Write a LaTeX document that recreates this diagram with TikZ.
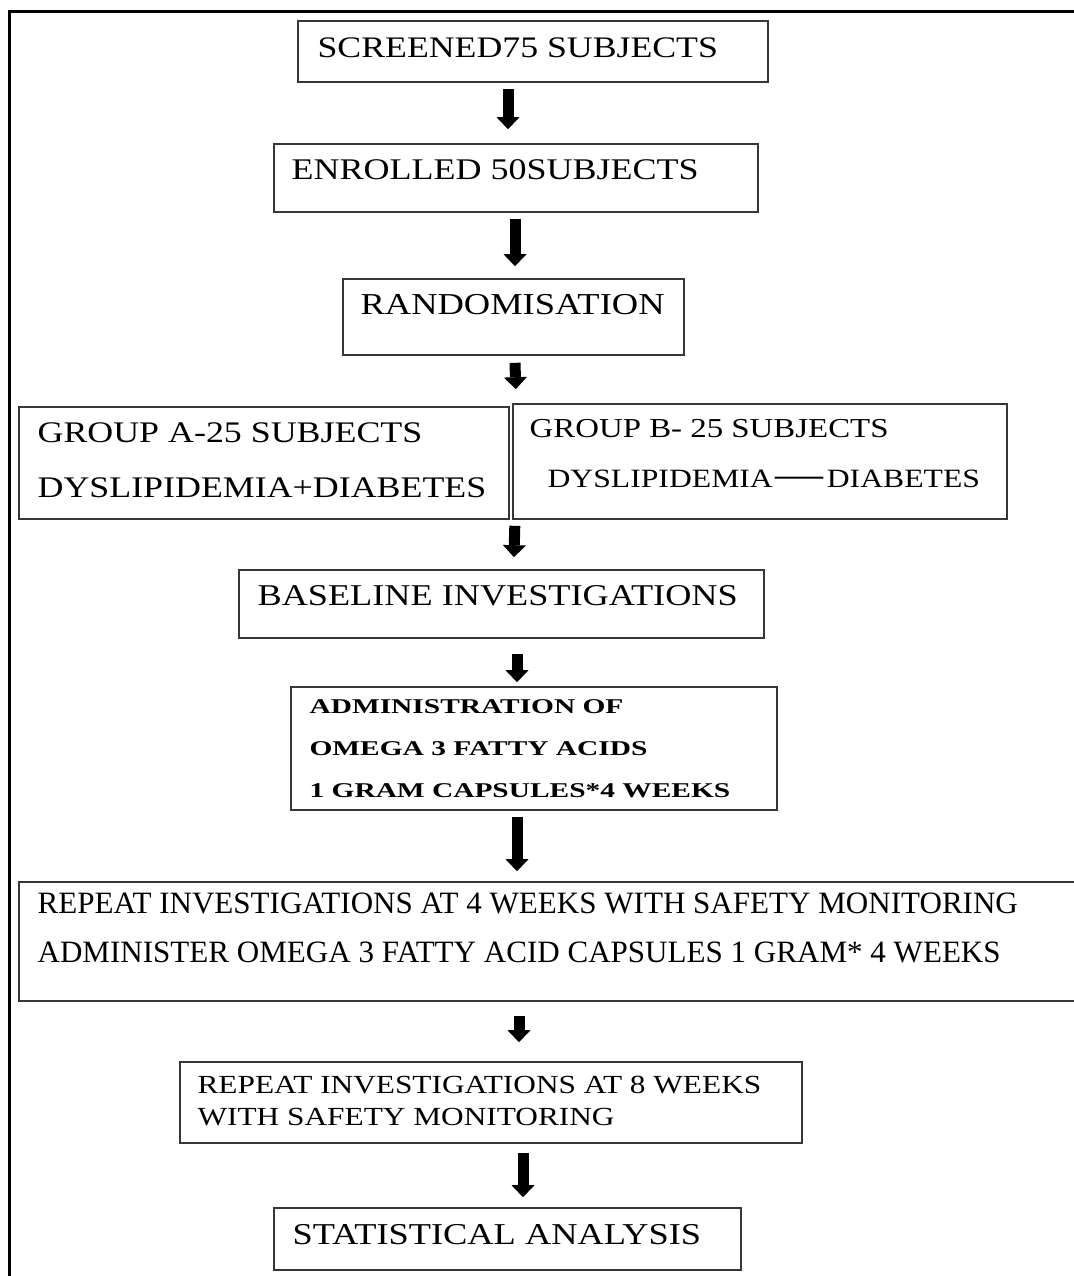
\documentclass[tikz,border=0pt]{standalone}
\usepackage{fontspec}
\setmainfont[FakeStretch=1.2]{Liberation Serif}
\newfontfamily\plainserif{Liberation Serif}
\newfontfamily\wideserif[FakeStretch=1.4]{Liberation Serif}
\usetikzlibrary{arrows.meta,fit}
\definecolor{boxgray}{RGB}{55,55,55}
\newcommand{\fsize}[2]{\fontsize{#1}{#2}\selectfont}

\begin{document}
\begin{tikzpicture}[
    x=0.5pt, y=-0.5pt,
    box/.style={rectangle,draw=boxgray,line width=0.8pt,inner sep=0pt},
    txt/.style={anchor=north west,inner sep=0pt,align=left,font=\fsize{15}{18}},
    arrow/.style={-{Triangle[length=6pt,width=11.5pt,line width=0pt]},line width=5.5pt},
    frame/.style={line width=1.5pt}
  ]
    \clip (0,0) rectangle (1074,1276);
    \draw[frame] (9.5,1290) |- (1090,11.3);

    \node[box,fit={(298,21) (768,82)}] (scr) {};
    \node[box,fit={(274,144) (758,212)}] (enr) {};
    \node[box,fit={(343,279) (684,355)}] (rand) {};
    \node[box,fit={(19,407) (509,519)}] (grpa) {};
    \node[box,fit={(513,404) (1007,519)}] (grpb) {};
    \node[box,fit={(239,570) (764,638)}] (base) {};
    \node[box,fit={(291,687) (777,810)}] (admin) {};
    \node[box,fit={(19,882) (1090,1001)}] (rep4) {};
    \node[box,fit={(180,1062) (802,1143)}] (rep8) {};
    \node[box,fit={(274,1208) (741,1270)}] (stat) {};

    \node[txt,font=\fsize{14.9}{18}] (scrtext) at ([shift={(20,17)}]scr.north west) {SCREENED75 SUBJECTS};
    \node[txt] (enrtext) at ([shift={(18,16)}]enr.north west) {ENROLLED 50SUBJECTS};
    \node[txt,font=\fsize{15.2}{18}] (randtext) at ([shift={(18,16)}]rand.north west) {RANDOMISATION};
    \node[txt,font=\fsize{14.95}{27.5}] (grpatext) at ([shift={(19,16)}]grpa.north west)
      {GROUP A-25 SUBJECTS\\DYSLIPIDEMIA+DIABETES};
    \node[txt,font=\fsize{13.7}{25}] (grpbtext) at ([shift={(17,16)}]grpb.north west)
      {GROUP B- 25 SUBJECTS\\\hspace*{9pt}{\fsize{13.2}{25}DYSLIPIDEMIA\kern1.5pt{\fsize{20}{25}—}\kern1.5pt DIABETES}};
    \node[txt,font=\fsize{15.1}{18}] (basetext) at ([shift={(19,16)}]base.north west) {BASELINE INVESTIGATIONS};
    \node[txt,font=\wideserif\bfseries\fsize{10.5}{21}] (admintext) at ([shift={(19,13)}]admin.north west)
      {ADMINISTRATION OF\\OMEGA 3 FATTY ACIDS\\1 GRAM CAPSULES*4 WEEKS};
    \node[txt,font=\plainserif\fsize{15.53}{24.5}] (rep4text) at ([shift={(19,11)}]rep4.north west)
      {REPEAT INVESTIGATIONS AT 4 WEEKS WITH SAFETY MONITORING\\ADMINISTER OMEGA 3 FATTY ACID CAPSULES 1 GRAM* 4 WEEKS};
    \node[txt,font=\fsize{13.05}{16}] (rep8text) at ([shift={(18,15)}]rep8.north west)
      {REPEAT INVESTIGATIONS AT 8 WEEKS\\WITH SAFETY MONITORING};
    \node[txt,font=\fsize{15.15}{18}] (stattext) at ([shift={(19,17)}]stat.north west) {STATISTICAL ANALYSIS};

    \draw[arrow] ([shift={(-25,6)}]scr.south) -- ([shift={(-8,-14)}]enr.north);
    \draw[arrow] ([shift={(-1,6)}]enr.south) -- ([shift={(1.5,-12)}]rand.north);
    \draw[arrow] ([shift={(1.5,7)}]rand.south) -- ([shift={(6,-17)}]grpa.north east);
    \draw[arrow] ([shift={(5,6)}]grpa.south east) -- ([shift={(12.5,-12)}]base.north);
    \draw[arrow] ([shift={(15.5,15)}]base.south) -- ([shift={(-17,-4)}]admin.north);
    \draw[arrow] ([shift={(-17,6)}]admin.south) -- ([shift={(-37.5,-10)}]rep4.north);
    \draw[arrow] ([shift={(-35.5,14)}]rep4.south) -- ([shift={(28,-19)}]rep8.north);
    \draw[arrow] ([shift={(32,9)}]rep8.south) -- ([shift={(15.5,-10)}]stat.north);
  \end{tikzpicture}
\end{document}
